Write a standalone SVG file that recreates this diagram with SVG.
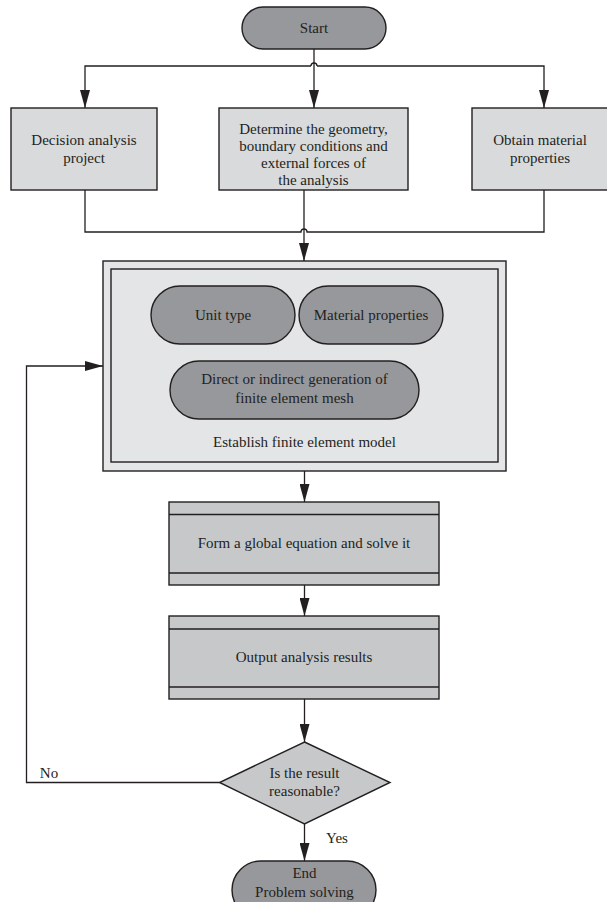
<svg xmlns="http://www.w3.org/2000/svg" width="607" height="902" viewBox="0 0 607 902" font-family="Liberation Serif, Times New Roman, serif">
  <style>
    text { font-family: 'Liberation Serif', 'Times New Roman', serif; font-size: 15px; fill: #231f20; text-anchor: middle; }
    .pill { fill: #97989b; stroke: #231f20; stroke-width: 1.4; }
    .box { fill: #d9dadc; stroke: #231f20; stroke-width: 1.4; }
    .proc { fill: #c7c8ca; stroke: #231f20; stroke-width: 1.4; }
    .outer { fill: #e4e5e7; stroke: #231f20; stroke-width: 1.4; }
    .inner { fill: #e4e5e7; stroke: #231f20; stroke-width: 1.4; }
    .conn { fill: none; stroke: #231f20; stroke-width: 1.3; }
  </style>
  <defs>
    <marker id="arr" viewBox="0 0 18 10" refX="18" refY="5" markerWidth="18" markerHeight="10" markerUnits="userSpaceOnUse" orient="auto">
      <path d="M0,0 L18,5 L0,10 z" fill="#231f20"/>
    </marker>
    <marker id="arrS" viewBox="0 0 9 8" refX="9" refY="4" markerWidth="9" markerHeight="8" markerUnits="userSpaceOnUse" orient="auto">
      <path d="M0,0 L9,4 L0,8 z" fill="#231f20"/>
    </marker>
  </defs>

  <g id="connectors">
    <path class="conn" d="M314,49 V108" marker-end="url(#arr)"/>
    <path class="conn" d="M311,66 H85 V108" marker-end="url(#arr)"/>
    <path class="conn" d="M317,66 H544 V108" marker-end="url(#arr)"/>
    <path class="conn" d="M311,66 A3,3 0 0 1 317,66"/>
    <path class="conn" d="M85,190 V232 H301 A3,3 0 0 1 307,232 H544 V190"/>
    <path class="conn" d="M304,190 V261" marker-end="url(#arr)"/>
    <path class="conn" d="M223,344 V361" marker-end="url(#arrS)"/>
    <path class="conn" d="M371,344 V361" marker-end="url(#arrS)"/>
    <path class="conn" d="M304.5,471 V502" marker-end="url(#arr)"/>
    <path class="conn" d="M304.5,585 V616" marker-end="url(#arr)"/>
    <path class="conn" d="M304.5,699 V742" marker-end="url(#arr)"/>
    <path class="conn" d="M304.5,824 V861" marker-end="url(#arr)"/>
    <path class="conn" d="M219.5,782.5 H26.5 V366 H103" marker-end="url(#arr)"/>
    <text x="49" y="778">No</text>
    <text x="337" y="843">Yes</text>
  </g>

  <g id="start">
    <rect class="pill" x="242" y="7" width="144" height="42" rx="21" ry="21"/>
    <text x="314" y="33">Start</text>
  </g>

  <g id="decision">
    <rect class="box" x="11" y="108" width="146" height="82"/>
    <text x="84" y="145">Decision analysis</text>
    <text x="84" y="163">project</text>
  </g>

  <g id="geometry">
    <rect class="box" x="219" y="108" width="189" height="82"/>
    <text x="313.5" y="134">Determine the geometry,</text>
    <text x="313.5" y="151">boundary conditions and</text>
    <text x="313.5" y="168">external forces of</text>
    <text x="313.5" y="185">the analysis</text>
  </g>

  <g id="material">
    <rect class="box" x="472" y="108" width="140" height="82"/>
    <text x="540" y="145">Obtain material</text>
    <text x="540" y="163">properties</text>
  </g>

  <g id="model">
    <rect class="outer" x="103" y="261" width="403" height="210"/>
    <rect class="inner" x="111" y="269" width="387" height="193"/>
    <text x="304.5" y="447">Establish finite element model</text>
  </g>

  <g id="unit-type">
    <rect class="pill" x="151" y="286" width="144" height="58" rx="29" ry="29"/>
    <text x="223" y="320">Unit type</text>
  </g>

  <g id="material-props">
    <rect class="pill" x="299" y="286" width="144" height="58" rx="29" ry="29"/>
    <text x="371" y="320">Material properties</text>
  </g>

  <g id="mesh">
    <rect class="pill" x="170" y="361" width="249" height="58" rx="29" ry="29"/>
    <text x="294.5" y="384">Direct or indirect generation of</text>
    <text x="294.5" y="403">finite element mesh</text>
  </g>

  <g id="solve">
    <rect class="proc" x="169" y="502" width="270" height="83"/>
    <line class="conn" x1="169" y1="514.5" x2="439" y2="514.5"/>
    <line class="conn" x1="169" y1="573" x2="439" y2="573"/>
    <text x="304" y="548">Form a global equation and solve it</text>
  </g>

  <g id="output">
    <rect class="proc" x="169" y="616" width="270" height="83"/>
    <line class="conn" x1="169" y1="629" x2="439" y2="629"/>
    <line class="conn" x1="169" y1="687" x2="439" y2="687"/>
    <text x="304" y="662">Output analysis results</text>
  </g>

  <g id="check">
    <polygon class="proc" points="304.5,742 390,782.5 304.5,824 219.5,782.5"/>
    <text x="304.5" y="778">Is the result</text>
    <text x="304.5" y="796">reasonable?</text>
  </g>

  <g id="end">
    <rect class="pill" x="232" y="861" width="144" height="58" rx="29" ry="29"/>
    <text x="304.5" y="878">End</text>
    <text x="304.5" y="897">Problem solving</text>
  </g>
</svg>
